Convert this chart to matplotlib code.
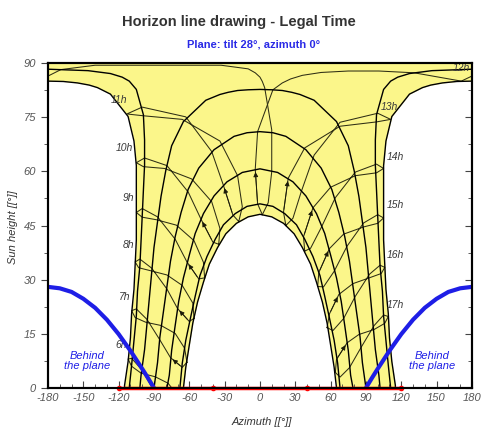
import matplotlib
matplotlib.use("Agg")
import matplotlib.pyplot as plt
from matplotlib.ticker import MultipleLocator

# ---- fonts / style ----
plt.rcParams['font.family'] = ['Liberation Sans Narrow', 'Liberation Sans', 'DejaVu Sans']
plt.rcParams['axes.linewidth'] = 1.5
plt.rcParams['axes.unicode_minus'] = False

YELLOW = '#fbf68a'
BLUE = '#1e1ee6'
TEXT_GREY = '#3a3a3a'

# =================================================
# DATA (azimuth [deg], sun height [deg])
# =================================================
# date lines (sun paths)
dec22_az = [-65, -63, -60, -57, -53, -48, -43, -36, -29, -20, -10, 0, 10, 20, 29, 36, 43, 48, 53, 57, 60, 63, 65]
dec22_h = [0.0, 5.7, 11.9, 18.0, 23.8, 29.3, 34.3, 38.9, 42.7, 45.6, 47.4, 48.1,
           47.4, 45.6, 42.7, 38.9, 34.3, 29.3, 23.8, 18.0, 11.9, 5.7, 0.0]

jan19_az = [-68, -66, -63, -59, -55, -51, -45, -38, -31, -21, -11, 0, 11, 21, 31, 38, 45, 51, 55, 59, 63, 66, 68]
jan19_h = [0.0, 6.8, 13.2, 19.4, 25.4, 31.1, 36.4, 41.2, 45.2, 48.3, 50.3, 51.0,
           50.3, 48.3, 45.2, 41.2, 36.4, 31.1, 25.4, 19.4, 13.2, 6.8, 0.0]

feb21_az = [-79, -77, -75, -72, -69, -65, -60, -55, -48, -39, -28, -15, 0,
            15, 28, 39, 48, 55, 60, 65, 69, 72, 75, 77, 79]
feb21_h = [0.0, 3.5, 10.4, 17.3, 24.0, 30.5, 36.8, 42.8, 48.3, 53.2, 57.1, 59.7, 60.7,
           59.7, 57.1, 53.2, 48.3, 42.8, 36.8, 30.5, 24.0, 17.3, 10.4, 3.5, 0.0]

mar20_az = [-90, -87, -85, -82, -79, -76, -72, -67, -61, -52, -39, -22, -11, 0,
            11, 22, 39, 52, 61, 67, 72, 76, 79, 82, 85, 87, 90]
mar20_h = [0.0, 7.0, 14.1, 21.1, 28.1, 35.1, 41.9, 48.6, 55.0, 60.9, 66.0, 69.7, 70.7, 71.0,
           70.7, 69.7, 66.0, 60.9, 55.0, 48.6, 41.9, 35.1, 28.1, 21.1, 14.1, 7.0, 0.0]

apr20_az = [-102, -101, -98, -96, -94, -92, -90, -87, -84, -80, -75, -65, -46, -34, -27, -19, -10, 0,
            10, 19, 27, 34, 46, 65, 75, 80, 84, 87, 90, 92, 94, 96, 98, 101, 102]
apr20_h = [0.0, 3.5, 10.6, 17.6, 24.7, 31.8, 38.9, 46.0, 53.1, 60.2, 67.1, 73.8, 79.7, 81.3, 81.9, 82.4, 82.6, 82.7,
           82.6, 82.4, 81.9, 81.3, 79.7, 73.8, 67.1, 60.2, 53.1, 46.0, 38.9, 31.8, 24.7, 17.6, 10.6, 3.5, 0.0]

may22_am_az = [-111, -109, -107, -105, -104, -102, -101, -100, -99, -98, -98, -99, -105, -111, -117, -127, -146, -180]
may22_am_h = [0.0, 6.3, 13.1, 19.9, 26.8, 33.7, 40.6, 47.6, 54.7, 61.7, 68.7, 75.7, 82.7, 85.0, 86.1, 87.1, 87.9, 88.3]
may22_pm_az = [180, 146, 127, 117, 111, 105, 99, 98, 98, 99, 100, 101, 102, 104, 105, 107, 109, 111]
may22_pm_h = [88.3, 87.9, 87.1, 86.1, 85.0, 82.7, 75.7, 68.7, 61.7, 54.7, 47.6, 40.6, 33.7, 26.8, 19.9, 13.1, 6.3, 0.0]

jun22_am_az = [-115, -115, -112, -110, -109, -107, -106, -105, -105, -105, -105, -107, -112, -127, -138, -145, -155, -167, -180]
jun22_am_h = [0.0, 0.7, 7.3, 13.9, 20.6, 27.3, 34.1, 41.0, 47.9, 54.7, 61.6, 68.4, 75.2, 81.4, 83.2, 83.9, 84.5, 84.9, 85.0]
jun22_pm_az = [180, 167, 155, 145, 138, 127, 112, 107, 105, 105, 105, 105, 106, 107, 109, 110, 112, 115, 115]
jun22_pm_h = [85.0, 84.9, 84.5, 83.9, 83.2, 81.4, 75.2, 68.4, 61.6, 54.7, 47.9, 41.0, 34.1, 27.3, 20.6, 13.9, 7.3, 0.7, 0.0]

date_lines = [(dec22_az, dec22_h), (jan19_az, jan19_h), (feb21_az, feb21_h), (mar20_az, mar20_h),
              (apr20_az, apr20_h), (may22_am_az, may22_am_h), (may22_pm_az, may22_pm_h),
              (jun22_am_az, jun22_am_h), (jun22_pm_az, jun22_pm_h)]

# hour lines (legal time), points at Dec22, Jan19, Feb21, Mar20, Apr20, May22, Jun22,
# Jul23, Aug23, Sep23, Oct23, Nov22, Dec22
h06_az = [-67, -71, -80, -90, -100, -109, -112, -109, -101, -89, -78, -70, -67]
h06_h = [-5.8, -7.5, -5.5, -0.9, 4.9, 8.2, 8.0, 6.0, 4.1, 3.1, 1.3, -2.1, -5.8]
h07_az = [-62, -66, -76, -85, -96, -105, -109, -106, -97, -84, -72, -64, -62]
h07_h = [7.1, 5.7, 8.4, 13.3, 19.0, 21.9, 21.4, 19.5, 18.2, 17.3, 15.1, 11.0, 7.1]
h08_az = [-56, -60, -70, -79, -92, -102, -106, -103, -92, -79, -66, -57, -56]
h08_h = [19.3, 18.4, 22.0, 27.4, 33.2, 35.7, 34.9, 33.3, 32.4, 31.3, 28.4, 23.5, 19.3]
h09_az = [-47, -52, -62, -72, -87, -100, -105, -100, -88, -71, -56, -48, -47]
h09_h = [30.5, 30.2, 34.9, 41.2, 47.4, 49.7, 48.6, 47.3, 46.6, 45.1, 40.8, 34.8, 30.5]
h10_az = [-35, -40, -50, -61, -79, -98, -105, -99, -81, -58, -41, -34, -35]
h10_h = [39.8, 40.4, 46.7, 54.3, 61.6, 63.7, 62.4, 61.3, 60.8, 57.9, 51.6, 44.2, 39.8]
h11_az = [-18, -23, -31, -41, -63, -100, -113, -99, -66, -34, -19, -15, -18]
h11_h = [46.1, 47.9, 56.1, 65.5, 75.1, 77.8, 75.9, 75.4, 74.4, 68.4, 58.8, 50.2, 46.1]
# 12h runs past the zenith: split where it wraps round +-180
h12a_az = [2, -2, -4, -2, 11, 19, 26, 36, 52, 75, 101, 131, 171, 180]
h12a_h = [48.0, 51.0, 60.6, 71.0, 82.6, 84.5, 85.6, 86.6, 87.4, 87.8, 87.8, 87.3, 85.0, 86.4]
h12b_az = [-180, -169, -140, -33, -10, -4, 0, 2, 4, 10, 10, 7, 2]
h12b_h = [86.4, 88.2, 89.4, 89.4, 88.4, 87.3, 86.1, 84.9, 83.2, 71.5, 59.9, 51.3, 48.0]
h13_az = [22, 20, 24, 38, 68, 99, 111, 100, 68, 46, 35, 28, 22]
h13_h = [45.0, 48.7, 58.1, 66.5, 72.5, 73.7, 74.4, 76.1, 73.6, 64.5, 54.3, 47.0, 45.0]
h14_az = [38, 37, 45, 60, 81, 99, 105, 99, 81, 64, 52, 43, 38]
h14_h = [37.9, 41.9, 49.9, 55.6, 58.8, 59.6, 60.8, 62.0, 59.8, 52.7, 44.4, 38.7, 37.9]
h15_az = [49, 50, 59, 71, 88, 100, 105, 100, 88, 74, 63, 54, 49]
h15_h = [28.1, 32.0, 38.6, 42.6, 44.6, 45.6, 47.1, 48.0, 45.7, 39.3, 32.3, 28.0, 28.1]
h16_az = [57, 59, 67, 79, 92, 103, 106, 102, 93, 81, 71, 62, 57]
h16_h = [16.7, 20.5, 25.9, 28.9, 30.4, 31.7, 33.4, 34.0, 31.5, 25.4, 19.2, 15.9, 16.7]
h17_az = [64, 65, 74, 84, 97, 106, 109, 105, 97, 86, 76, 68, 64]
h17_h = [4.3, 7.9, 12.5, 14.8, 16.2, 17.9, 19.8, 20.2, 17.3, 11.3, 5.6, 3.0, 4.3]

hour_lines = [(h06_az, h06_h), (h07_az, h07_h), (h08_az, h08_h), (h09_az, h09_h),
              (h10_az, h10_h), (h11_az, h11_h), (h12a_az, h12a_h), (h12b_az, h12b_h),
              (h13_az, h13_h), (h14_az, h14_h), (h15_az, h15_h), (h16_az, h16_h), (h17_az, h17_h)]
# lines that carry a direction arrow (Jan19 -> Feb21)
arrow_lines = [(h07_az, h07_h), (h08_az, h08_h), (h09_az, h09_h), (h10_az, h10_h), (h11_az, h11_h),
               (h12a_az, h12a_h), (h13_az, h13_h), (h14_az, h14_h), (h15_az, h15_h),
               (h16_az, h16_h), (h17_az, h17_h)]

hour_labels = ['6h', '7h', '8h', '9h', '10h', '11h', '12h', '13h', '14h', '15h', '16h', '17h']
hour_label_az = [-118, -115, -112, -112, -115, -120, 171, 110, 115, 115, 115, 115]
hour_label_h = [11.9, 25.2, 39.6, 52.6, 66.5, 79.7, 88.6, 77.8, 64.0, 50.7, 36.8, 23.0]

# plane "behind" limit (tilt 28, azimuth 0)
behind_left_az = [-180, -170, -160, -150, -140, -130, -120, -110, -105, -100, -95, -90]
behind_left_h = [28.0, 27.6, 26.6, 24.7, 22.2, 18.9, 14.9, 10.3, 7.8, 5.3, 2.7, 0.0]
behind_right_az = [90, 95, 100, 105, 110, 120, 130, 140, 150, 160, 170, 180]
behind_right_h = [0.0, 2.7, 5.3, 7.8, 10.3, 14.9, 18.9, 22.2, 24.7, 26.6, 27.6, 28.0]

# horizon line
horizon_az = [-120, -40, 40, 120]
horizon_h = [0, 0, 0, 0]

# =================================================
# PLOT
# =================================================
fig = plt.figure(figsize=(4.85, 4.32), dpi=100)
ax = fig.add_axes([0.099, 0.102, 0.874, 0.752])
ax.set_xlim(-180, 180)
ax.set_ylim(0, 90)

# yellow band reached by the sun, white where it never goes
ax.set_facecolor(YELLOW)
ax.fill_between(dec22_az, dec22_h, 0, color='white', lw=0, zorder=0.5)
ax.fill_betweenx(jun22_am_h, -180, jun22_am_az, color='white', lw=0, zorder=0.5)
ax.fill_betweenx(jun22_pm_h, jun22_pm_az, 180, color='white', lw=0, zorder=0.5)

for az, h in hour_lines:
    ax.plot(az, h, color='#2e2e14', lw=0.75, zorder=2)
for az, h in arrow_lines:
    ax.annotate('', xy=(az[2], h[2]), xytext=(az[1], h[1]),
                arrowprops=dict(arrowstyle='-|>', color='#1a1a08', lw=0.6, mutation_scale=7),
                zorder=3)
for az, h in date_lines:
    ax.plot(az, h, color='black', lw=1.0, zorder=2.5)

for lab, x, y in zip(hour_labels, hour_label_az, hour_label_h):
    ax.text(x, y, lab, fontsize=7.5, style='italic', color=TEXT_GREY,
            ha='center', va='center', zorder=4)

ax.plot(behind_left_az, behind_left_h, color=BLUE, lw=3, zorder=5, solid_capstyle='round')
ax.plot(behind_right_az, behind_right_h, color=BLUE, lw=3, zorder=5, solid_capstyle='round')
ax.text(-147, 7.6, 'Behind\nthe plane', color=BLUE, fontsize=8, style='italic',
        ha='center', va='center', linespacing=1.0, zorder=5)
ax.text(146, 7.6, 'Behind\nthe plane', color=BLUE, fontsize=8, style='italic',
        ha='center', va='center', linespacing=1.0, zorder=5)

ax.plot(horizon_az, horizon_h, color='#ff0000', lw=2.5, marker='o', ms=3,
        clip_on=False, zorder=6)

# axes styling
ax.xaxis.set_major_locator(MultipleLocator(30))
ax.xaxis.set_minor_locator(MultipleLocator(10))
ax.yaxis.set_major_locator(MultipleLocator(15))
ax.yaxis.set_minor_locator(MultipleLocator(7.5))
ax.tick_params(axis='x', which='both', direction='in', top=False, colors='#444444',
               labelcolor='#555555', labelsize=8)
ax.tick_params(axis='x', which='major', length=5)
ax.tick_params(axis='x', which='minor', length=3)
ax.tick_params(axis='y', which='both', direction='out', right=False, colors='#444444',
               labelcolor='#555555', labelsize=8)
ax.tick_params(axis='y', which='major', length=5)
ax.tick_params(axis='y', which='minor', length=3)
for lbl in ax.get_xticklabels() + ax.get_yticklabels():
    lbl.set_style('italic')

# inner ticks on the right side
ax_r = ax.twinx()
ax_r.set_ylim(0, 90)
ax_r.yaxis.set_major_locator(MultipleLocator(15))
ax_r.yaxis.set_minor_locator(MultipleLocator(7.5))
ax_r.tick_params(axis='y', which='both', direction='in', labelright=False, colors='#444444')
ax_r.tick_params(axis='y', which='major', length=5)
ax_r.tick_params(axis='y', which='minor', length=3)

fig.text(0.493, 0.950, 'Horizon line drawing - Legal Time', ha='center', va='center',
         fontsize=10.5, weight='bold', color='#333333')
fig.text(0.522, 0.896, 'Plane: tilt 28\u00b0, azimuth 0\u00b0', ha='center', va='center',
         fontsize=8, weight='bold', color='#2a2ae6')
fig.text(0.540, 0.024, 'Azimuth [[\u00b0]]', ha='center', va='center',
         fontsize=8, style='italic', color='#333333')
fig.text(0.026, 0.475, 'Sun height [[\u00b0]]', ha='center', va='center', rotation=90,
         fontsize=8, style='italic', color='#333333')

fig.savefig('out.png', dpi=100)
